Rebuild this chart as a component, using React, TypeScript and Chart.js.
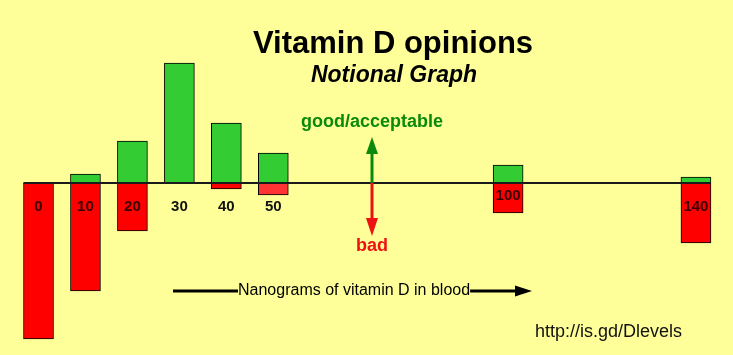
import React, { useEffect, useRef } from "react";
import { Chart, registerables } from "chart.js";

Chart.register(...registerables);

// Nanograms of vitamin D in blood (category positions on a linear axis)
const levels: number[] = [0, 10, 20, 30, 40, 50, 100, 140];
// Notional "good/acceptable" opinion strength (positive)
const goodValues: (number | null)[] = [null, 1.5, 7, 20, 10, 5, 3, 1];
// Notional "bad" opinion strength (negative)
const badValues: (number | null)[] = [-26, -18, -8, null, -1, -2, -5, -10];
const tickLabels: string[] = ["0", "10", "20", "30", "40", "50", "100", "140"];

const FONT = '"Liberation Sans", Arial, Helvetica, sans-serif';
const BG = "#FFFF99";
const GREEN = "#33CC33";
const redColors = ["#FF0000", "#FF0000", "#FF0000", "#FF0000", "#FF0000", "#FF3333", "#FF0000", "#FF0000"];

export default function App() {
  const ref = useRef<HTMLCanvasElement | null>(null);

  useEffect(() => {
    const canvas = ref.current;
    if (!canvas) return;

    const bgPlugin = {
      id: "bg",
      beforeDraw(chart: any) {
        const ctx = chart.ctx;
        ctx.save();
        ctx.fillStyle = BG;
        ctx.fillRect(0, 0, chart.width, chart.height);
        ctx.restore();
      },
    };

    const decoPlugin = {
      id: "deco",
      afterDatasetsDraw(chart: any) {
        const ctx = chart.ctx;
        const xs = chart.scales.x;
        const ys = chart.scales.y;
        const y0 = ys.getPixelForValue(0);
        ctx.save();
        // baseline across the bars
        const xa = xs.getPixelForValue(levels[0]) - 15;
        const xb = xs.getPixelForValue(levels[levels.length - 1]) + 15;
        ctx.strokeStyle = "#1a1a1a";
        ctx.lineWidth = 2;
        ctx.beginPath();
        ctx.moveTo(xa, y0);
        ctx.lineTo(xb, y0);
        ctx.stroke();

        // tick labels
        ctx.font = `bold 15px ${FONT}`;
        ctx.textAlign = "center";
        ctx.textBaseline = "middle";
        levels.forEach((lv, i) => {
          const x = xs.getPixelForValue(lv);
          let y = y0 + 24;
          const bad = badValues[i];
          const redBottom = bad != null ? ys.getPixelForValue(bad) : y0;
          if (redBottom > y && redBottom - 17 < y) y = redBottom - 17;
          const inside = redBottom > y;
          ctx.fillStyle = inside ? "#3a0000" : "#111111";
          ctx.fillText(tickLabels[i], x, y);
        });
        ctx.restore();
      },
      afterDraw(chart: any) {
        const ctx = chart.ctx;
        const ys = chart.scales.y;
        const y0 = ys.getPixelForValue(0);
        ctx.save();
        ctx.textAlign = "center";
        ctx.textBaseline = "alphabetic";
        // titles
        ctx.fillStyle = "#000000";
        ctx.font = `bold 31px ${FONT}`;
        ctx.fillText("Vitamin D opinions", 393, 53);
        ctx.font = `italic bold 23px ${FONT}`;
        ctx.fillText("Notional Graph", 394, 82);

        // good / bad arrows
        const ax = 372;
        ctx.fillStyle = "#0a8a0a";
        ctx.font = `bold 18px ${FONT}`;
        ctx.fillText("good/acceptable", ax, 127);
        ctx.strokeStyle = "#0a8a0a";
        ctx.lineWidth = 3;
        ctx.beginPath();
        ctx.moveTo(ax, y0);
        ctx.lineTo(ax, 152);
        ctx.stroke();
        ctx.beginPath();
        ctx.moveTo(ax, 137);
        ctx.lineTo(ax - 6, 154);
        ctx.lineTo(ax + 6, 154);
        ctx.closePath();
        ctx.fill();

        ctx.fillStyle = "#ee1111";
        ctx.strokeStyle = "#ee1111";
        ctx.beginPath();
        ctx.moveTo(ax, y0);
        ctx.lineTo(ax, 220);
        ctx.stroke();
        ctx.beginPath();
        ctx.moveTo(ax, 236);
        ctx.lineTo(ax - 6, 218);
        ctx.lineTo(ax + 6, 218);
        ctx.closePath();
        ctx.fill();
        ctx.fillText("bad", ax, 251);

        // axis caption with arrow
        const cy = 291;
        ctx.strokeStyle = "#000000";
        ctx.fillStyle = "#000000";
        ctx.lineWidth = 3;
        ctx.beginPath();
        ctx.moveTo(173, cy);
        ctx.lineTo(238, cy);
        ctx.stroke();
        ctx.font = `16px ${FONT}`;
        ctx.textAlign = "left";
        ctx.textBaseline = "middle";
        const cap = "Nanograms of vitamin D in blood";
        ctx.fillText(cap, 238, cy);
        const capEnd = 238 + ctx.measureText(cap).width;
        ctx.beginPath();
        ctx.moveTo(capEnd, cy);
        ctx.lineTo(518, cy);
        ctx.stroke();
        ctx.beginPath();
        ctx.moveTo(532, cy);
        ctx.lineTo(515, cy - 5.5);
        ctx.lineTo(515, cy + 5.5);
        ctx.closePath();
        ctx.fill();

        // link
        ctx.font = `18px ${FONT}`;
        ctx.textBaseline = "alphabetic";
        ctx.fillStyle = "#111111";
        ctx.fillText("http://is.gd/Dlevels", 535, 337);
        ctx.restore();
      },
    };

    const chart = new Chart(canvas, {
      type: "bar",
      data: {
        datasets: [
          {
            label: "good/acceptable",
            data: levels.map((x, i) => ({ x, y: goodValues[i] })) as any,
            backgroundColor: GREEN,
            borderColor: "#000000",
            borderWidth: 1,
            borderSkipped: false,
            barThickness: 30,
          },
          {
            label: "bad",
            data: levels.map((x, i) => ({ x, y: badValues[i] })) as any,
            backgroundColor: redColors,
            borderColor: "#000000",
            borderWidth: 1,
            borderSkipped: false,
            barThickness: 30,
          },
        ],
      },
      options: {
        responsive: false,
        animation: false,
        layout: { padding: { left: 10, right: 10, top: 33, bottom: 10 } },
        plugins: {
          legend: { display: false },
          title: { display: false },
          tooltip: { enabled: false },
        },
        scales: {
          x: { type: "linear", min: -6.07, max: 145.76, offset: false, stacked: true, display: false },
          y: { min: -27, max: 25, stacked: true, display: false },
        },
      },
      plugins: [bgPlugin, decoPlugin],
    });

    return () => chart.destroy();
  }, []);

  return (
    <div style={{ position: "absolute", left: 0, top: 0, width: 733, height: 355 }}>
      <canvas ref={ref} width={733} height={355} style={{ display: "block" }} />
    </div>
  );
}
